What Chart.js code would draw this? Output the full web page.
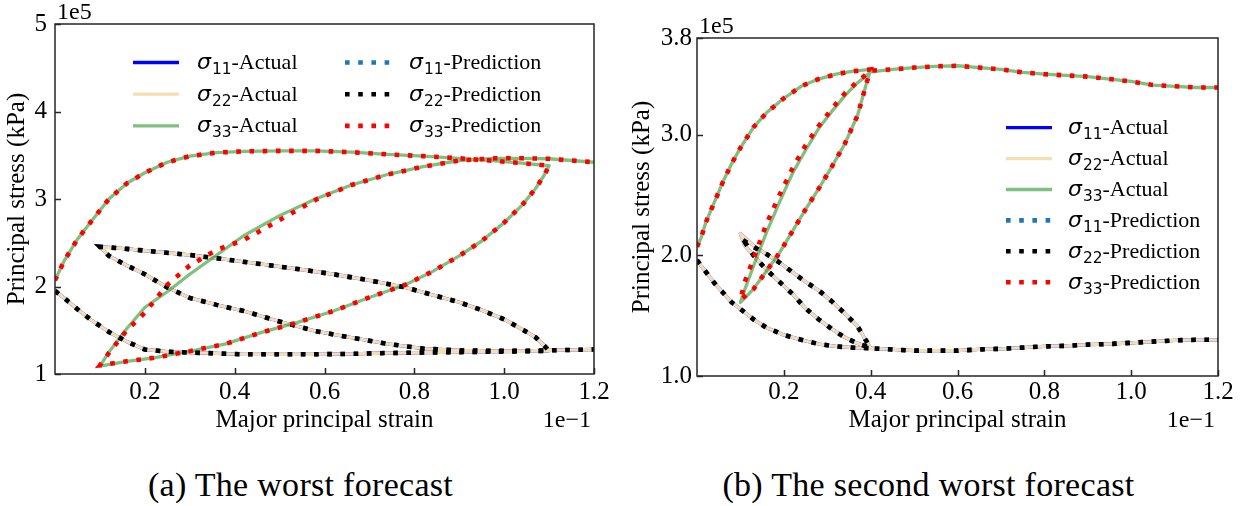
<!DOCTYPE html>
<html>
<head>
<meta charset="utf-8">
<script src="https://cdn.jsdelivr.net/npm/chart.js@4/dist/chart.umd.min.js"></script>
<style>
  html, body { margin: 0; padding: 0; background: #fff; }
  body { width: 1252px; height: 506px; position: relative; overflow: hidden; }
  canvas { position: absolute; top: 0; }
  #chartA { left: 0; }
  #chartB { left: 620px; }
  .caption {
    position: absolute; top: 468px; line-height: 34px; height: 34px;
    font-family: "Liberation Serif", "Times New Roman", serif; font-weight: normal;
    font-size: 34px; letter-spacing: 0.3px; color: #000; text-align: center; white-space: nowrap;
  }
  #capA { left: 0; width: 601px; }
  #capB { left: 657px; width: 543px; }
</style>
</head>
<body>
<canvas id="chartA" width="620" height="450"></canvas>
<canvas id="chartB" width="632" height="450"></canvas>
<div class="caption" id="capA">(a) The worst forecast</div>
<div class="caption" id="capB">(b) The second worst forecast</div>

<script>
// Strain in units of 1e-1, stress in units of 1e5 kPa.
// Each test: loading, unloading, reloading (strain path shared by all components).

// ---- (a) The worst forecast ----
const strainA = [
  0, 0.02, 0.05, 0.08, 0.12, 0.16, 0.2, 0.25, 0.3, 0.36, 0.42, 0.5, 0.58, 0.66, 0.74, 0.82, 0.9, 0.98, 1.04, 1.1,
  1.09, 1.07, 1.04, 1.0, 0.95, 0.9, 0.84, 0.78, 0.7, 0.62, 0.54, 0.46, 0.38, 0.3, 0.22, 0.16, 0.1,
  0.12, 0.16, 0.2, 0.25, 0.3, 0.36, 0.42, 0.5, 0.58, 0.66, 0.74, 0.82, 0.9, 0.98, 1.04, 1.1, 1.15, 1.2
];
const s33ActualA = [
  2.07, 2.29, 2.54, 2.74, 3.00, 3.18, 3.30, 3.42, 3.49, 3.53, 3.545, 3.55, 3.55, 3.535, 3.51, 3.49, 3.465, 3.435, 3.41, 3.38,
  3.28, 3.12, 2.93, 2.73, 2.52, 2.35, 2.17, 2.02, 1.875, 1.72, 1.59, 1.475, 1.345, 1.26, 1.185, 1.145, 1.09,
  1.25, 1.52, 1.76, 1.94, 2.14, 2.36, 2.58, 2.81, 3.00, 3.16, 3.28, 3.37, 3.44, 3.465, 3.465, 3.46, 3.44, 3.42
];
const s33PredA = [
  2.07, 2.29, 2.54, 2.74, 3.00, 3.18, 3.30, 3.42, 3.49, 3.53, 3.545, 3.55, 3.55, 3.535, 3.51, 3.49, 3.465, 3.435, 3.41, 3.38,
  3.28, 3.12, 2.93, 2.73, 2.52, 2.35, 2.17, 2.02, 1.875, 1.72, 1.59, 1.475, 1.345, 1.26, 1.185, 1.145, 1.10,
  1.24, 1.50, 1.70, 2.02, 2.24, 2.42, 2.53, 2.76, 2.99, 3.16, 3.28, 3.37, 3.44, 3.465, 3.465, 3.46, 3.44, 3.42
];
const s22ActualA = [
  1.95, 1.87, 1.74, 1.62, 1.48, 1.37, 1.28, 1.255, 1.245, 1.235, 1.225, 1.225, 1.225, 1.23, 1.24, 1.245, 1.25, 1.255, 1.26, 1.265,
  1.32, 1.42, 1.51, 1.625, 1.73, 1.82, 1.905, 1.99, 2.07, 2.14, 2.20, 2.255, 2.31, 2.36, 2.40, 2.43, 2.455,
  2.35, 2.24, 2.14, 1.99, 1.87, 1.79, 1.72, 1.60, 1.49, 1.415, 1.345, 1.29, 1.27, 1.265, 1.265, 1.27, 1.275, 1.28
];
const s22PredA = [
  1.95, 1.87, 1.74, 1.62, 1.48, 1.37, 1.28, 1.255, 1.245, 1.235, 1.225, 1.225, 1.225, 1.23, 1.24, 1.245, 1.25, 1.255, 1.26, 1.265,
  1.32, 1.42, 1.51, 1.625, 1.73, 1.82, 1.905, 1.99, 2.07, 2.14, 2.20, 2.255, 2.31, 2.36, 2.40, 2.43, 2.455,
  2.35, 2.24, 2.14, 1.99, 1.87, 1.79, 1.72, 1.60, 1.49, 1.415, 1.345, 1.29, 1.27, 1.265, 1.265, 1.27, 1.275, 1.28
];
// Axisymmetric loading: the two lateral stresses coincide (sigma11 = sigma22).
const s11ActualA = s22ActualA;
const s11PredA = s22PredA;

// ---- (b) The second worst forecast ----
const strainB = [
  0, 0.01, 0.02, 0.04, 0.06, 0.08, 0.1, 0.13, 0.16, 0.2, 0.24, 0.28, 0.32, 0.36, 0.4,
  0.39, 0.37, 0.34, 0.31, 0.28, 0.25, 0.22, 0.19, 0.16, 0.13, 0.1,
  0.11, 0.13, 0.16, 0.19, 0.22, 0.25, 0.28, 0.31, 0.34, 0.37, 0.39, 0.4,
  0.45, 0.5, 0.55, 0.6, 0.65, 0.7, 0.75, 0.8, 0.85, 0.9, 0.95, 1.0, 1.05, 1.1, 1.15, 1.2
];
const s33ActualB = [
  2.07, 2.15, 2.27, 2.44, 2.61, 2.76, 2.89, 3.06, 3.18, 3.30, 3.40, 3.46, 3.50, 3.525, 3.54,
  3.42, 3.16, 2.92, 2.73, 2.55, 2.38, 2.20, 2.02, 1.87, 1.72, 1.61,
  1.715, 1.91, 2.19, 2.44, 2.68, 2.87, 3.05, 3.19, 3.32, 3.43, 3.49, 3.52,
  3.54, 3.555, 3.565, 3.57, 3.555, 3.54, 3.515, 3.50, 3.49, 3.48, 3.46, 3.44, 3.41, 3.40, 3.39, 3.39
];
const s33PredB = [
  2.07, 2.15, 2.27, 2.44, 2.61, 2.76, 2.89, 3.06, 3.18, 3.30, 3.40, 3.46, 3.50, 3.525, 3.54,
  3.42, 3.16, 2.92, 2.73, 2.55, 2.38, 2.20, 2.02, 1.87, 1.72, 1.63,
  1.78, 1.97, 2.26, 2.50, 2.72, 2.91, 3.07, 3.21, 3.34, 3.44, 3.50, 3.53,
  3.54, 3.555, 3.565, 3.57, 3.555, 3.54, 3.515, 3.50, 3.49, 3.48, 3.46, 3.44, 3.41, 3.40, 3.39, 3.39
];
const s22ActualB = [
  1.96, 1.91, 1.865, 1.77, 1.69, 1.61, 1.555, 1.47, 1.40, 1.34, 1.30, 1.265, 1.245, 1.235, 1.23,
  1.29, 1.41, 1.52, 1.62, 1.71, 1.78, 1.86, 1.94, 2.01, 2.08, 2.18,
  2.08, 2.00, 1.88, 1.78, 1.68, 1.56, 1.47, 1.39, 1.32, 1.27, 1.245, 1.23,
  1.22, 1.21, 1.21, 1.21, 1.22, 1.225, 1.235, 1.245, 1.25, 1.26, 1.265, 1.275, 1.285, 1.295, 1.30, 1.30
];
const s22PredB = [
  1.96, 1.91, 1.865, 1.77, 1.69, 1.61, 1.555, 1.47, 1.40, 1.34, 1.30, 1.265, 1.245, 1.235, 1.23,
  1.29, 1.41, 1.52, 1.62, 1.71, 1.78, 1.86, 1.94, 2.01, 2.07, 2.14,
  2.11, 2.00, 1.88, 1.78, 1.68, 1.56, 1.47, 1.39, 1.32, 1.27, 1.245, 1.23,
  1.22, 1.21, 1.21, 1.21, 1.22, 1.225, 1.235, 1.245, 1.25, 1.26, 1.265, 1.275, 1.285, 1.295, 1.30, 1.30
];
const s11ActualB = s22ActualB;
const s11PredB = s22PredB;

// Tick labels
const strainTicks = [0.2, 0.4, 0.6, 0.8, 1.0, 1.2];
const stressTicksA = [1, 2, 3, 4, 5];
const stressTicksB = [1.0, 2.0, 3.0, 3.8];

const seriesLabels = ['σ11-Actual', 'σ22-Actual', 'σ33-Actual', 'σ11-Prediction', 'σ22-Prediction', 'σ33-Prediction'];

const SERIF = '"Liberation Serif", "Times New Roman", serif';

function pairs(xs, ys) { return xs.map((x, i) => ({ x: x, y: ys[i] })); }

function makeDatasets(strain, s11a, s22a, s33a, s11p, s22p, s33p) {
  const solid = (label, data, color, order) => ({
    label, data: pairs(strain, data), borderColor: color, borderWidth: 3.3,
    showLine: true, pointRadius: 0, tension: 0, borderCapStyle: 'butt', borderJoinStyle: 'round', order
  });
  const dotted = (label, data, color, order) => ({
    label, data: pairs(strain, data), borderColor: color, borderWidth: 4.6,
    borderDash: [4.6, 8.6], showLine: true, pointRadius: 0, tension: 0,
    borderCapStyle: 'butt', borderJoinStyle: 'miter', order
  });
  return [
    solid(seriesLabels[0], s11a, '#0000ff', 6),
    solid(seriesLabels[1], s22a, '#f5deb3', 5),
    solid(seriesLabels[2], s33a, 'rgba(0,128,0,0.5)', 4),
    dotted(seriesLabels[3], s11p, '#1f77b4', 3),
    dotted(seriesLabels[4], s22p, '#000000', 2),
    dotted(seriesLabels[5], s33p, '#ff0000', 1)
  ];
}

// "σ" + subscript + rest, set the way mathtext writes it
function drawSigmaLabel(ctx, text, x, baseline, size) {
  const m = /^σ(\d+)(.*)$/.exec(text);
  ctx.fillStyle = '#000';
  ctx.textAlign = 'left';
  ctx.textBaseline = 'alphabetic';
  ctx.font = 'italic ' + size + 'px "DejaVu Sans"';
  ctx.fillText('σ', x, baseline);
  let w = ctx.measureText('σ').width + 1;
  ctx.font = (size * 0.7) + 'px "DejaVu Sans"';
  ctx.fillText(m[1], x + w, baseline + size * 0.23);
  w += ctx.measureText(m[1]).width;
  ctx.font = size + 'px ' + SERIF;
  ctx.fillText(m[2], x + w, baseline);
}

const axesDecor = {
  id: 'axesDecor',
  afterDatasetsDraw(chart, args, opts) {
    const { ctx, chartArea: a, scales } = chart;
    const xs = scales.x, ys = scales.y;
    ctx.save();
    // axes frame
    ctx.strokeStyle = '#262626';
    ctx.lineWidth = 1.5;
    ctx.setLineDash([]);
    ctx.strokeRect(a.left, a.top, a.right - a.left, a.bottom - a.top);
    // inward tick marks
    ctx.beginPath();
    xs.ticks.forEach(t => {
      const px = Math.round(xs.getPixelForValue(t.value)) + 0.5;
      ctx.moveTo(px, a.bottom); ctx.lineTo(px, a.bottom - 6);
    });
    ys.ticks.forEach(t => {
      const py = Math.round(ys.getPixelForValue(t.value)) + 0.5;
      ctx.moveTo(a.left, py); ctx.lineTo(a.left + 6, py);
    });
    ctx.stroke();
    // offset (scale factor) texts
    ctx.fillStyle = '#000';
    ctx.font = 'normal 24px ' + SERIF;
    ctx.textBaseline = 'alphabetic';
    ctx.textAlign = 'left';
    ctx.fillText('1e5', a.left + 2, a.top - 5);
    ctx.textAlign = 'right';
    ctx.fillText('1e\u22121', a.right - 3, opts.xExpBaseline);
    // legend
    const lg = opts.legend;
    chart.data.datasets.forEach((ds, i) => {
      const col = Math.floor(i / lg.rows);
      const row = i % lg.rows;
      const x0 = lg.cols[col];
      const yc = lg.top + row * lg.dy;
      ctx.save();
      ctx.strokeStyle = ds.borderColor;
      ctx.lineWidth = ds.borderWidth;
      ctx.lineCap = 'butt';
      ctx.setLineDash(ds.borderDash || []);
      ctx.beginPath();
      ctx.moveTo(x0, yc); ctx.lineTo(x0 + lg.len, yc);
      ctx.stroke();
      ctx.restore();
      drawSigmaLabel(ctx, ds.label, x0 + lg.len + lg.gap, yc + 6.5, 22);
    });
    ctx.restore();
  }
};

function makeChart(canvasId, datasets, yMin, yMax, yTicks, yFmt, geom) {
  const tickFont = { family: SERIF, size: 25, weight: 'normal' };
  const titleFont = { family: SERIF, size: 25, weight: 'normal' };
  return new Chart(document.getElementById(canvasId), {
    type: 'scatter',
    data: { datasets },
    plugins: [axesDecor],
    options: {
      responsive: false,
      animation: false,
      events: [],
      layout: { padding: { left: 0, top: geom.top, right: geom.right, bottom: 0 } },
      plugins: {
        legend: { display: false },
        tooltip: { enabled: false },
        axesDecor: { legend: geom.legend, xExpBaseline: geom.xExpBaseline }
      },
      scales: {
        x: {
          type: 'linear', min: 0, max: 1.2,
          afterBuildTicks: s => { s.ticks = strainTicks.map(v => ({ value: v })); },
          afterFit: s => { s.height = geom.xHeight; },
          ticks: { font: tickFont, color: '#000', padding: geom.xTickPad, maxRotation: 0, autoSkip: false,
                   callback: v => Number(v).toFixed(1) },
          grid: { display: false, drawTicks: false },
          border: { display: false },
          title: { display: true, text: 'Major principal strain', font: titleFont, color: '#000',
                   padding: { top: 0, bottom: geom.xTitlePad } }
        },
        y: {
          type: 'linear', min: yMin, max: yMax,
          afterBuildTicks: s => { s.ticks = yTicks.map(v => ({ value: v })); },
          afterFit: s => { s.width = geom.yWidth; },
          ticks: { font: tickFont, color: '#000', padding: geom.yTickPad, autoSkip: false, callback: yFmt },
          grid: { display: false, drawTicks: false },
          border: { display: false },
          title: { display: true, text: 'Principal stress (kPa)', font: titleFont, color: '#000',
                   padding: { top: geom.yTitlePad, bottom: 0 } }
        }
      }
    }
  });
}

makeChart('chartA',
  makeDatasets(strainA, s11ActualA, s22ActualA, s33ActualA, s11PredA, s22PredA, s33PredA),
  1, 5, stressTicksA, v => String(Math.round(v)),
  { top: 24, right: 26, xHeight: 76, yWidth: 55, xTickPad: 3, yTickPad: 8, xTitlePad: 15, yTitlePad: 2.5,
    xExpBaseline: 427,
    legend: { cols: [133, 345], rows: 3, top: 62.5, dy: 31.7, len: 46, gap: 18 } });

makeChart('chartB',
  makeDatasets(strainB, s11ActualB, s22ActualB, s33ActualB, s11PredB, s22PredB, s33PredB),
  1.0, 3.8, stressTicksB, v => Number(v).toFixed(1),
  { top: 38, right: 34, xHeight: 74, yWidth: 77, xTickPad: 1, yTickPad: 5, xTitlePad: 15, yTitlePad: 7,
    xExpBaseline: 427,
    legend: { cols: [386], rows: 6, top: 127.7, dy: 30.9, len: 46, gap: 16 } });
</script>
</body>
</html>
